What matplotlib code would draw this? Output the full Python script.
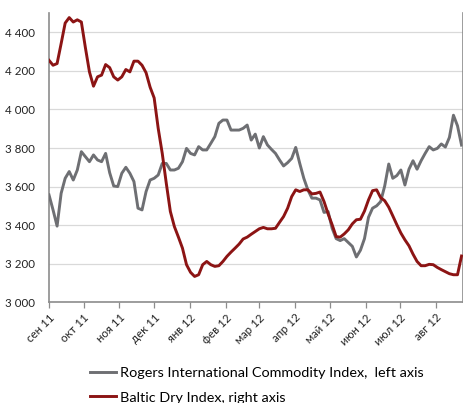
import matplotlib
matplotlib.use("Agg")
import matplotlib.pyplot as plt
import matplotlib.dates as mdates
from matplotlib.ticker import FixedLocator, FuncFormatter
import pandas as pd

start_date = "2011-09-01"
rogers = [3557, 3479, 3395, 3565, 3643, 3678, 3634, 3686, 3781, 3755,
          3729, 3764, 3738, 3729, 3772, 3672, 3603, 3600, 3669, 3700,
          3669, 3626, 3488, 3479, 3574, 3634, 3643, 3660, 3720, 3720,
          3686, 3686, 3695, 3729, 3798, 3772, 3764, 3807, 3790, 3790,
          3824, 3859, 3928, 3945, 3945, 3893, 3893, 3893, 3902, 3919,
          3841, 3872, 3800, 3859, 3816, 3793, 3772, 3738, 3707, 3724,
          3746, 3803, 3720, 3643, 3583, 3540, 3540, 3531, 3466, 3471,
          3384, 3330, 3320, 3330, 3310, 3290, 3235, 3270, 3330, 3441,
          3488, 3500, 3522, 3603, 3717, 3643, 3657, 3686, 3608, 3690,
          3734, 3690, 3734, 3772, 3807, 3790, 3798, 3821, 3805, 3855,
          3970, 3915, 3815]
baltic = [1922, 1893, 1903, 2020, 2141, 2173, 2147, 2160, 2147, 1996,
          1854, 1770, 1825, 1835, 1897, 1879, 1825, 1806, 1825, 1868,
          1854, 1917, 1917, 1893, 1849, 1764, 1701, 1522, 1375, 1199,
          1034, 945, 883, 818, 721, 676, 652, 662, 721, 740,
          721, 711, 715, 740, 770, 795, 818, 842, 872, 883,
          900, 916, 932, 940, 932, 932, 935, 970, 1004, 1053,
          1121, 1161, 1151, 1161, 1161, 1137, 1140, 1148, 1092, 1020,
          956, 886, 883, 902, 926, 961, 985, 988, 1036, 1102,
          1156, 1161, 1115, 1097, 1059, 1008, 956, 907, 867, 832,
          783, 740, 715, 715, 723, 721, 705, 692, 680, 668,
          662, 662, 772]
month_starts = ["2011-09-01", "2011-10-01", "2011-11-01", "2011-12-01",
                "2012-01-01", "2012-02-01", "2012-03-01", "2012-04-01",
                "2012-05-01", "2012-06-01", "2012-07-01", "2012-08-01"]
month_labels = ["сен 11", "окт 11", "ноя 11", "дек 11", "янв 12", "фев 12",
                "мар 12", "апр 12", "май 12", "июн 12", "июл 12", "авг 12"]
left_ticks = [3000, 3200, 3400, 3600, 3800, 4000, 4200, 4400]
label_rogers = "Rogers International Commodity Index,  left axis"
label_baltic = "Baltic Dry Index, right axis"

dates = pd.date_range(start_date, periods=len(rogers), freq="84h")

plt.rcParams["font.family"] = ["Lato", "DejaVu Sans"]

fig = plt.figure(figsize=(4.64, 4.03), dpi=100)
ax = fig.add_axes([49 / 464, 100.7 / 403, (462.7 - 49) / 464, (390 - 100.7) / 403])
ax2 = ax.twinx()

grey = "#6e6f73"
red = "#8c1414"

l1, = ax.plot(dates, rogers, color=grey, lw=2.1, solid_joinstyle="round", zorder=3)
l2, = ax2.plot(dates, baltic, color=red, lw=2.1, solid_joinstyle="round", zorder=3)

ax.set_ylim(3000, 4500)
ax2.set_ylim(500, 2200)
ax.set_xlim(pd.Timestamp("2011-09-01"), pd.Timestamp("2012-08-24"))

ax.yaxis.set_major_locator(FixedLocator(left_ticks))
ax.yaxis.set_major_formatter(FuncFormatter(lambda v, p: f"{int(v):,}".replace(",", " ")))
ax.grid(axis="y", color="#d9d9d9", lw=0.9)
ax.set_axisbelow(True)

ticks = [mdates.date2num(pd.Timestamp(d)) for d in month_starts]
ax.xaxis.set_major_locator(FixedLocator(ticks))
ax.set_xticklabels(month_labels, rotation=45, ha="right", rotation_mode="anchor")

ax.tick_params(axis="y", length=0, pad=10, labelsize=8.3, colors="#222222")
ax.tick_params(axis="x", length=4, width=0.9, color="#8c8c8c", pad=3, labelsize=8.3,
               labelcolor="#222222")
ax2.set_yticks([])

for a in (ax, ax2):
    a.spines["top"].set_visible(False)
ax.spines["left"].set_color("#8c8c8c")
ax.spines["bottom"].set_color("#8c8c8c")
ax.spines["right"].set_visible(False)
ax2.spines["left"].set_visible(False)
ax2.spines["bottom"].set_visible(False)
ax2.spines["right"].set_color("#8c8c8c")
for s in ("left", "bottom"):
    ax.spines[s].set_linewidth(1.2)
ax2.spines["right"].set_linewidth(1.2)

fig.legend([l1, l2], [label_rogers, label_baltic], loc="upper left",
           bbox_to_anchor=(90 / 464, 36 / 403), frameon=False, fontsize=10.4,
           handlelength=1.8, handletextpad=0.25, labelspacing=0.85, borderpad=0,
           borderaxespad=0)

fig.savefig("out.png", dpi=100)
